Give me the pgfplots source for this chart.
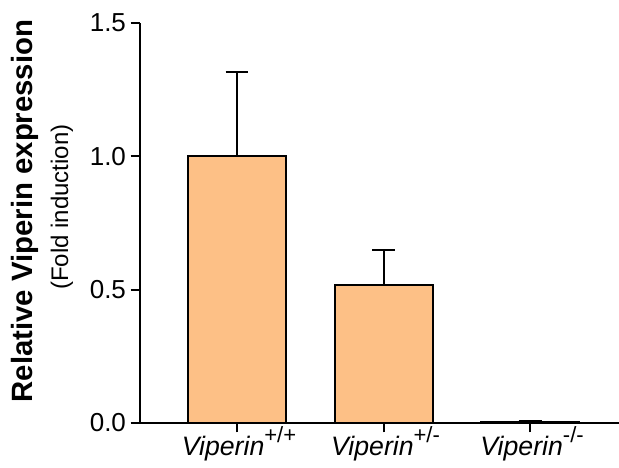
\documentclass[border=0pt]{standalone}
\usepackage{pgfplots}
\pgfplotsset{compat=1.18}
\usepackage{fontspec}
\setmainfont{Liberation Sans}
\definecolor{barfill}{RGB}{253,192,134}
\newcommand{\supx}[1]{\raisebox{0.5em}{\fontsize{16.5}{16.5}\selectfont #1}}
\begin{document}
\begin{tikzpicture}
\begin{axis}[
 at={(0,0)}, anchor=south west,
 scale only axis, width=359.25pt, height=300pt,
 xmin=-0.662, xmax=2.607, ymin=0, ymax=1.5,
 axis lines*=left,
 axis line style={line width=1.5pt},
 clip=false,
 xtick={0,1,2},
 xticklabels={\textit{Viperin}\supx{+/+}, \textit{Viperin}\supx{+/-}, \textit{Viperin}\supx{-/-}},
 ytick={0,0.5,1,1.5},
 /pgf/number format/fixed, /pgf/number format/fixed zerofill, /pgf/number format/precision=1,
 /pgf/number format/assume math mode=true,
 y tick label style={font=\fontsize{19.5}{19.5}\selectfont},
 x tick label style={font=\fontsize{20}{20}\selectfont, yshift=8pt, xshift=1.5pt},
 tick style={black, line width=1.5pt},
 major tick length=7pt,
 tick align=outside,
 ybar, bar width=73.5pt,
]
\addplot[fill=barfill, draw=black, line width=1.5pt,
  error bars/.cd, y dir=plus, y explicit, error mark=|,
  error bar style={line width=1.5pt, black},
  error mark options={line width=1.5pt, mark size=8.6pt}]
  coordinates {(0,1.0) +- (0,0.316) (1,0.5175) +- (0,0.131) (2,0.005) +- (0,0.002)};
\end{axis}
\node[rotate=90, font=\bfseries\fontsize{22}{22}\selectfont] at (-86.25pt,159pt) {Relative Viperin expression};
\node[rotate=90, font=\fontsize{18}{18}\selectfont] at (-58.5pt,162pt) {(Fold induction)};
\pgfresetboundingbox
\path (-105pt,-33.75pt) rectangle (359.25pt,317.25pt);
\end{tikzpicture}
\end{document}
